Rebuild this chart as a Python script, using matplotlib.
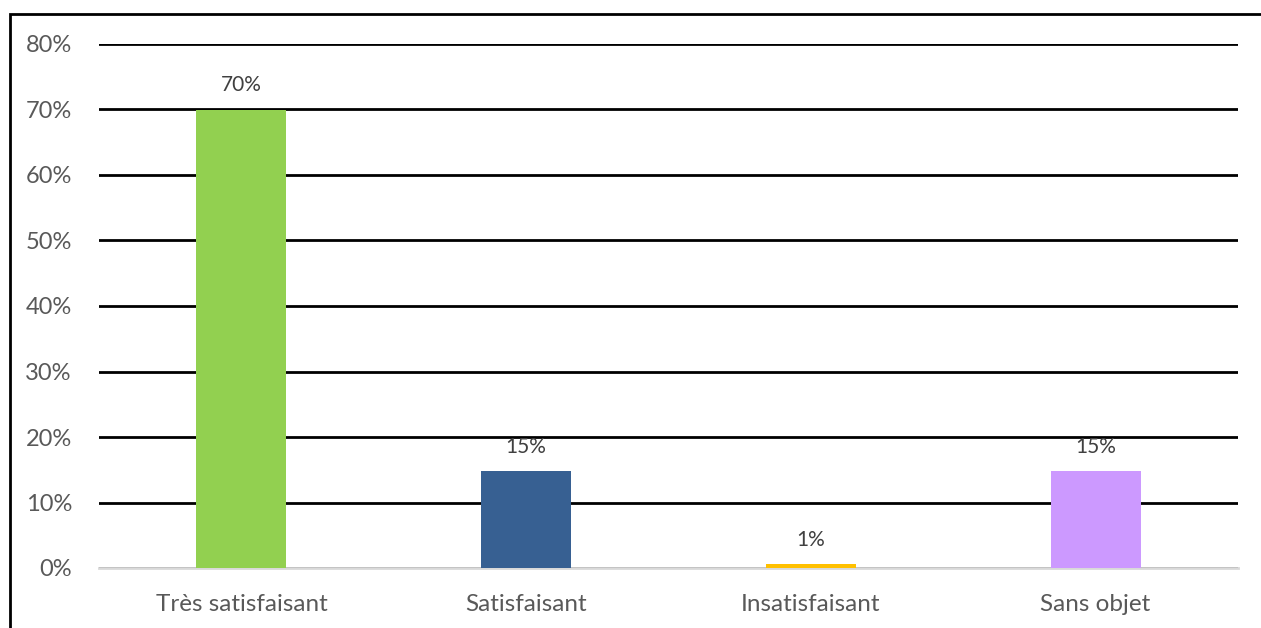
import matplotlib
matplotlib.use("Agg")
import matplotlib.pyplot as plt
from matplotlib.ticker import PercentFormatter, MultipleLocator
from matplotlib.patches import Rectangle

categories = ["Très satisfaisant", "Satisfaisant", "Insatisfaisant", "Sans objet"]
values = [0.70, 0.148, 0.006, 0.148]
colors = ["#92D050", "#376092", "#FFC000", "#CC99FF"]

plt.rcParams["font.family"] = ["Lato", "DejaVu Sans"]

W, H = 1261, 628
fig = plt.figure(figsize=(W / 100, H / 100), dpi=100)
ax = fig.add_axes([99 / W, 1 - 568 / H, (1238 - 99) / W, (568 - 44) / H])

x = range(len(categories))
ax.bar(x, values, width=0.316, color=colors, zorder=3)
for xi, v in zip(x, values):
    ax.text(xi, v + 0.022, f"{v:.0%}", ha="center", va="bottom",
            fontsize=15, color="#404040", zorder=4)

ax.set_xlim(-0.5, len(categories) - 0.5)
ax.set_ylim(0, 0.80)
ax.yaxis.set_major_locator(MultipleLocator(0.10))
ax.yaxis.set_major_formatter(PercentFormatter(1.0, decimals=0))
ax.set_xticks(list(x))
ax.set_xticklabels(categories)
ax.tick_params(axis="both", length=0, labelsize=17.5, colors="#595959")
ax.tick_params(axis="y", labelsize=17, pad=19.5)
ax.tick_params(axis="x", pad=18.5)

ax.grid(axis="y", color="black", linewidth=2, zorder=1)
for s in ["top", "right", "left"]:
    ax.spines[s].set_visible(False)
ax.spines["bottom"].set_color("#D9D9D9")
ax.spines["bottom"].set_linewidth(2)
ax.spines["bottom"].set_zorder(2)
ax.yaxis.get_gridlines()[0].set_visible(False)

# outer chart frame
fig.add_artist(Rectangle((10 / W, -0.05), 1.1, 1 - 14 / H + 0.05,
                         transform=fig.transFigure, fill=False,
                         edgecolor="black", linewidth=2))

fig.savefig("out.png", dpi=100)
